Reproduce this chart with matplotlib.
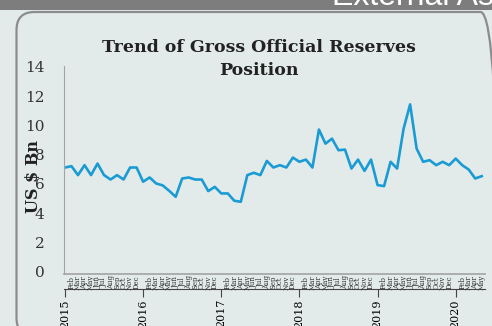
import matplotlib.pyplot as plt
import matplotlib.patches as mpatches
from matplotlib.transforms import IdentityTransform
import numpy as np

# gross official reserves, US$ bn, monthly from Jan 2015
reserves = [7.12, 7.21, 6.60, 7.28, 6.60, 7.39, 6.60, 6.30, 6.60, 6.30, 7.12, 7.12,
            6.15, 6.44, 6.03, 5.90, 5.53, 5.12, 6.37, 6.44, 6.30, 6.30, 5.51, 5.80,
            5.35, 5.35, 4.85, 4.78, 6.60, 6.76, 6.60, 7.57, 7.12, 7.28, 7.12, 7.80,
            7.51, 7.66, 7.12, 9.71, 8.75, 9.09, 8.30, 8.34, 7.05, 7.66, 6.89, 7.66,
            5.92, 5.85, 7.51, 7.05, 9.77, 11.43, 8.41, 7.51, 7.62, 7.28, 7.51, 7.28,
            7.73, 7.28, 6.98, 6.37, 6.53]
years = ['2015', '2016', '2017', '2018', '2019', '2020']
months = ['Jan', 'Feb', 'Mar', 'Apr', 'May', 'Jun',
          'Jul', 'Aug', 'Sep', 'Oct', 'Nov', 'Dec']
yticks = [0, 2, 4, 6, 8, 10, 12, 14]

bg = '#e3ebea'
fig = plt.figure(figsize=(4.92, 3.26), dpi=100, facecolor=bg)

# header band and rounded panel border
fig.add_artist(mpatches.Rectangle((0, 1 - 10 / 326), 1, 10 / 326, transform=fig.transFigure,
                                  facecolor='#7d7d7d', edgecolor='none', zorder=0))
fig.add_artist(mpatches.FancyBboxPatch((16.5, -10), 482, 324,
                                       boxstyle='round,pad=0,rounding_size=18',
                                       transform=IdentityTransform(),
                                       facecolor='none', edgecolor='#8c8c8c', lw=1.6, zorder=1))
fig.text(332 / 492, 1 - 5 / 326, 'External Assistance', color='white', fontsize=23,
         family='Liberation Sans', va='baseline', ha='left')

ax = fig.add_axes([64 / 492, 1 - 274 / 326, 421 / 492, 208 / 326])
ax.set_facecolor(bg)

x = np.arange(len(reserves))
ax.plot(x, reserves, color='#1b9bd3', lw=1.9, solid_joinstyle='round')

ax.set_xlim(-0.15, 64.5)
ax.set_ylim(-0.15, 14.05)
ax.set_yticks(yticks)
ax.set_yticklabels([str(v) for v in yticks], family='DejaVu Serif', fontsize=11, color='#333333')
ax.tick_params(axis='y', length=0, pad=14)

ax.spines['top'].set_visible(False)
ax.spines['right'].set_visible(False)
ax.spines['left'].set_color('#a3a3a3')
ax.axhline(-0.15, color='#a3a3a3', lw=1.2, clip_on=False)

# category axis: month labels in a band, year labels below
ax.spines['bottom'].set_position(('outward', 11))
ax.spines['bottom'].set_color('#444444')
ax.spines['bottom'].set_linewidth(0.8)
ax.set_xticks(np.arange(0, len(reserves), 12))
ax.set_xticklabels(years, rotation=90, family='DejaVu Serif', fontsize=8, va='top')
ax.set_xticks(x, minor=True)
ax.set_xticklabels([months[i % 12] for i in x], minor=True, rotation=90,
                   family='DejaVu Serif', fontsize=5, va='center', color='#333333')
ax.tick_params(axis='x', which='major', length=6, color='#444444', pad=1)
ax.tick_params(axis='x', which='minor', length=0, pad=-5)

ax.set_ylabel('US $ Bn', family='DejaVu Serif', fontweight='bold', fontsize=11.5, color='#222222')
ax.yaxis.set_label_coords(-0.053, 0.47)

fig.text(259 / 492, 1 - 59 / 326, 'Trend of Gross Official Reserves\nPosition', ha='center',
         va='center', family='DejaVu Serif', fontweight='bold', fontsize=12.5,
         color='#222222', linespacing=1.45)

fig.savefig('out.png', dpi=100, facecolor=bg)
